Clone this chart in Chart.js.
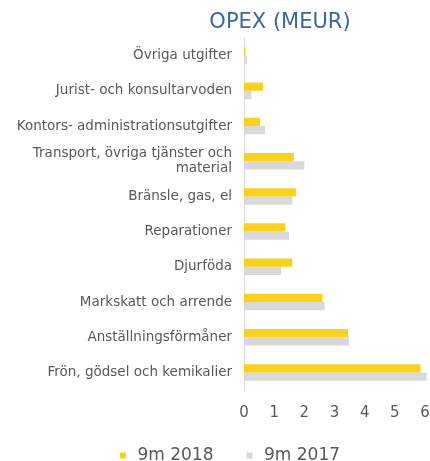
<!DOCTYPE html>
<html>
<head>
<meta charset="utf-8">
<script src="https://cdn.jsdelivr.net/npm/chart.js@4.4.1/dist/chart.umd.min.js"></script>
<style>
  html, body { margin: 0; padding: 0; background: #ffffff; }
  #wrap { position: relative; width: 430px; height: 461px; }
  #title { position: absolute; left: 0; top: 9px; width: 560px; text-align: center;
           font-family: "DejaVu Sans", sans-serif; font-size: 21px; color: #3B67A3; }
  canvas { position: absolute; left: 0; top: 0; }
</style>
</head>
<body>
<div id="wrap">
  <canvas id="c" width="430" height="461"></canvas>
  <div id="title">OPEX (MEUR)</div>
</div>
<script>
const categories = [
  "Övriga utgifter",
  "Jurist- och konsultarvoden",
  "Kontors- administrationsutgifter",
  ["Transport, övriga tjänster och", "material"],
  "Bränsle, gas, el",
  "Reparationer",
  "Djurföda",
  "Markskatt och arrende",
  "Anställningsförmåner",
  "Frön, gödsel och kemikalier"
];
const series2018 = [0.05, 0.63, 0.53, 1.65, 1.72, 1.37, 1.60, 2.60, 3.45, 5.85];
const series2017 = [0.10, 0.25, 0.70, 2.00, 1.60, 1.49, 1.23, 2.67, 3.48, 6.06];
const seriesNames = ["9m 2018", "9m 2017"];
const xTicks = [0, 1, 2, 3, 4, 5, 6];

const font = "'DejaVu Sans', sans-serif";

const legendShift = {
  id: 'legendShift',
  afterLayout(chart) {
    if (chart.legend) { chart.legend.left += 16; chart.legend.right += 16; }
  }
};

new Chart(document.getElementById('c'), {
  type: 'bar',
  data: {
    labels: categories,
    datasets: [
      { label: seriesNames[0], data: series2018, backgroundColor: '#F8D21C', borderWidth: 0, clip: false },
      { label: seriesNames[1], data: series2017, backgroundColor: '#D9D9D9', borderWidth: 0, clip: false }
    ]
  },
  plugins: [legendShift],
  options: {
    indexAxis: 'y',
    responsive: false,
    animation: false,
    devicePixelRatio: 1,
    categoryPercentage: 0.47,
    barPercentage: 1.0,
    layout: { padding: { top: 38, right: 5, left: 0, bottom: -13 } },
    scales: {
      x: {
        min: 0, max: 6,
        afterBuildTicks: (s) => { s.ticks = xTicks.map(v => ({ value: v })); },
        afterFit: (s) => { s.height = 27; s.paddingRight = 0; s.paddingLeft = 0; },
        grid: { display: false, drawTicks: false },
        border: { display: false },
        ticks: { color: '#595959', font: { family: font, size: 15 }, padding: 14 }
      },
      y: {
        grid: { display: false, drawTicks: false },
        border: { display: true, color: '#D9D9D9', width: 1 },
        afterFit: (s) => { s.width = 244; },
        ticks: { color: '#595959', font: { family: font, size: 13.5, lineHeight: 1.1 }, padding: 12, autoSkip: false }
      }
    },
    plugins: {
      title: { display: false },
      tooltip: { enabled: false },
      legend: {
        position: 'bottom',
        labels: {
          color: '#595959',
          font: { family: font, size: 17 },
          usePointStyle: true,
          pointStyle: 'rect',
          boxWidth: 12,
          boxHeight: 6,
          padding: 30
        }
      }
    }
  }
});
</script>
</body>
</html>
